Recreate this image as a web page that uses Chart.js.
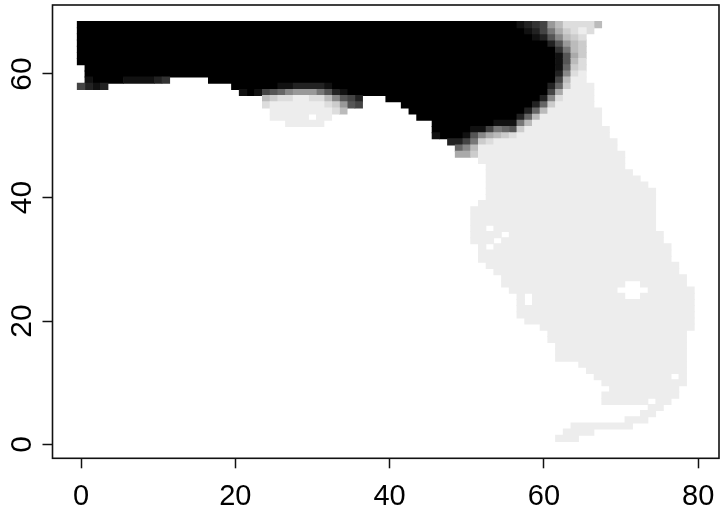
<!DOCTYPE html>
<html><head><meta charset="utf-8">
<style>html,body{margin:0;padding:0;background:#fff}canvas{display:block}</style>
<script src="https://cdn.jsdelivr.net/npm/chart.js@4"></script>
</head><body><canvas id="c" width="720" height="516"></canvas>
<script>
// Field values: level 14 is the highest (black), 0 the lowest (palest grey). Missing cells are NA (white).
const xTickValues = [0, 20, 40, 60, 80];
const yTickValues = [0, 20, 40, 60];
const levelShades = ['#ededed','#dddddd','#cccccc','#bbbbbb','#aaaaaa','#999999','#888888','#777777','#666666','#555555','#444444','#333333','#222222','#111111','#000000'];
// row -> runs of [fromColumn, toColumn, level]
const rows = [
[68,[[0,56,14],[57,57,13],[58,58,12],[59,59,11],[60,60,10],[61,61,5],[62,62,3],[63,66,1],[67,67,3]]],
[67,[[0,57,14],[58,58,13],[59,59,12],[60,60,10],[61,61,7],[62,62,4],[63,63,2],[64,64,1],[65,65,0],[66,66,1]]],
[66,[[0,58,14],[59,59,13],[60,60,12],[61,61,9],[62,62,6],[63,63,3],[64,64,2],[65,65,1]]],
[65,[[0,60,14],[61,61,12],[62,62,9],[63,63,5],[64,64,3],[65,65,2]]],
[64,[[0,61,14],[62,62,11],[63,63,7],[64,64,3],[65,65,2]]],
[63,[[0,61,14],[62,62,13],[63,63,9],[64,64,4],[65,65,2]]],
[62,[[0,61,14],[62,62,13],[63,63,9],[64,64,3],[65,65,1]]],
[61,[[1,61,14],[62,62,13],[63,63,8],[64,64,2],[65,65,1]]],
[60,[[1,61,14],[62,62,12],[63,63,6],[64,64,1],[65,65,0]]],
[59,[[1,1,13],[2,5,14],[6,9,13],[10,10,12],[11,11,11],[17,61,14],[62,62,10],[63,63,3],[64,65,0]]],
[58,[[0,0,10],[1,1,12],[2,2,13],[3,3,12],[20,25,14],[26,27,13],[28,31,12],[32,32,13],[33,60,14],[61,61,12],[62,62,8],[63,63,2],[64,66,0]]],
[57,[[21,21,13],[22,22,14],[23,23,13],[24,24,10],[25,25,9],[26,26,8],[27,27,6],[28,30,5],[31,31,7],[32,32,9],[33,33,12],[34,34,13],[35,60,14],[61,61,10],[62,62,4],[63,66,0]]],
[56,[[24,24,3],[25,25,2],[26,27,1],[28,29,0],[30,31,1],[32,32,3],[33,33,6],[34,34,9],[35,35,10],[36,36,12],[40,59,14],[60,60,12],[61,61,6],[62,62,1],[63,66,0]]],
[55,[[24,24,1],[25,31,0],[32,32,1],[33,33,2],[34,34,5],[35,35,9],[36,36,10],[42,58,14],[59,59,12],[60,60,8],[61,61,2],[62,66,0]]],
[54,[[25,32,0],[33,33,1],[34,34,3],[43,57,14],[58,58,12],[59,59,8],[60,60,3],[61,67,0]]],
[53,[[25,29,0],[31,32,0],[44,56,14],[57,57,12],[58,58,8],[59,59,3],[60,67,0]]],
[52,[[27,31,0],[46,53,14],[54,56,13],[57,57,7],[58,58,3],[59,67,0]]],
[51,[[46,50,14],[51,52,13],[53,53,10],[54,54,7],[55,55,8],[56,56,9],[57,57,2],[58,68,0]]],
[50,[[46,46,13],[47,49,14],[50,50,13],[51,51,9],[52,52,6],[53,53,4],[54,54,3],[55,55,2],[56,56,1],[57,68,0]]],
[49,[[48,49,12],[50,50,10],[51,51,7],[52,52,2],[53,53,1],[54,69,0]]],
[48,[[49,49,8],[50,50,6],[51,51,3],[52,69,0]]],
[47,[[49,50,4],[51,51,2],[52,70,0]]],
[46,[[52,70,0]]],
[45,[[53,70,0]]],
[44,[[53,71,0]]],
[43,[[53,72,0]]],
[42,[[53,73,0]]],
[41,[[53,74,0]]],
[40,[[53,74,0]]],
[39,[[52,74,0]]],
[38,[[51,74,0]]],
[37,[[51,74,0]]],
[36,[[51,74,0]]],
[35,[[51,52,0],[54,74,0]]],
[34,[[51,54,0],[56,75,0]]],
[33,[[51,53,0],[55,75,0]]],
[32,[[52,52,0],[54,76,0]]],
[31,[[52,76,0]]],
[30,[[52,76,0]]],
[29,[[53,77,0]]],
[28,[[54,77,0]]],
[27,[[55,78,0]]],
[26,[[55,70,0],[73,78,0]]],
[25,[[56,69,0],[74,79,0]]],
[24,[[57,57,0],[59,70,0],[73,79,0]]],
[23,[[57,57,0],[59,79,0]]],
[22,[[57,79,0]]],
[21,[[57,79,0]]],
[20,[[58,79,0]]],
[19,[[60,79,0]]],
[18,[[61,78,0]]],
[17,[[61,78,0]]],
[16,[[62,78,0]]],
[15,[[62,78,0]]],
[14,[[62,78,0]]],
[13,[[65,78,0]]],
[12,[[66,78,0]]],
[11,[[67,76,0],[78,78,0]]],
[10,[[68,78,0]]],
[9,[[69,77,0]]],
[8,[[68,77,0]]],
[7,[[68,73,0],[75,76,0]]],
[6,[[74,75,0]]],
[5,[[73,74,0]]],
[4,[[71,73,0]]],
[3,[[64,71,0]]],
[2,[[63,66,0]]],
[1,[[62,64,0]]]
];

const datasets = levelShades.map((shade, level) => ({
  label: 'level ' + level,
  backgroundColor: shade,
  borderWidth: 0,
  inflateAmount: 0.33,
  grouped: false,
  barThickness: 6.5,
  data: rows.flatMap(([row, runs]) => runs
    .filter(run => run[2] === level)
    .map(run => ({ y: row, x: [run[0] - 0.5, run[1] + 0.5] })))
}));

const frame = {
  id: 'frame',
  afterDraw(chart) {
    const a = chart.chartArea, g = chart.ctx;
    g.save();
    g.strokeStyle = '#111';
    g.lineWidth = 1.6;
    g.strokeRect(a.left, a.top, a.right - a.left, a.bottom - a.top);
    g.restore();
  }
};

const noMargins = s => { s.paddingLeft = s.paddingRight = s.paddingTop = s.paddingBottom = 0; };

new Chart(document.getElementById('c'), {
  type: 'bar',
  data: { datasets },
  plugins: [frame],
  options: {
    indexAxis: 'y',
    responsive: false,
    animation: false,
    events: [],
    layout: { padding: { top: 5, right: 1, left: 0, bottom: 0 } },
    plugins: { legend: { display: false }, tooltip: { enabled: false } },
    scales: {
      x: {
        type: 'linear', min: -3.7, max: 82.7, offset: false,
        border: { display: false },
        grid: { drawOnChartArea: false, offset: false, tickLength: 10, tickWidth: 1.5, tickColor: '#111' },
        ticks: { autoSkip: false, maxRotation: 0, minRotation: 0, color: '#000', padding: 11,
          font: { family: '"Liberation Sans"', size: 29 }, callback: v => String(v) },
        afterBuildTicks: s => { s.ticks = xTickValues.map(value => ({ value })); },
        afterFit: s => { s.height = 57.7; noMargins(s); }
      },
      y: {
        type: 'linear', min: -2.23, max: 71.17, offset: false,
        border: { display: false },
        grid: { drawOnChartArea: false, offset: false, tickLength: 10, tickWidth: 1.5, tickColor: '#111' },
        ticks: { autoSkip: false, maxRotation: 90, minRotation: 90, crossAlign: 'center', color: '#000', padding: 3,
          font: { family: '"Liberation Sans"', size: 30 }, callback: v => String(v) },
        afterBuildTicks: s => { s.ticks = yTickValues.map(value => ({ value })); },
        afterFit: s => { s.width = 52.5; noMargins(s); }
      }
    }
  }
});
</script></body></html>
